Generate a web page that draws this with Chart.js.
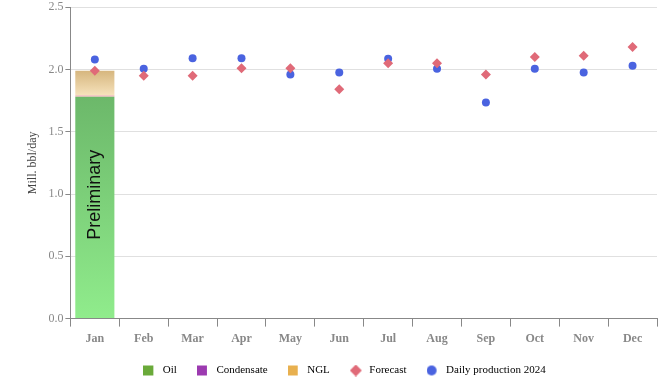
<!DOCTYPE html>
<html>
<head>
<meta charset="utf-8">
<script src="https://cdn.jsdelivr.net/npm/chart.js@4/dist/chart.umd.min.js"></script>
<style>
html,body{margin:0;padding:0;background:#fff;}
#wrap{width:670px;height:377px;}
</style>
</head>
<body>
<div id="wrap"><canvas id="c" width="670" height="377"></canvas></div>
<script>
const months = ["Jan","Feb","Mar","Apr","May","Jun","Jul","Aug","Sep","Oct","Nov","Dec"];
const oil = [1.78,null,null,null,null,null,null,null,null,null,null,null];
const condensate = [0.012,null,null,null,null,null,null,null,null,null,null,null];
const ngl = [0.197,null,null,null,null,null,null,null,null,null,null,null];
const forecast = [1.99,1.95,1.95,2.01,2.01,1.84,2.05,2.05,1.96,2.10,2.11,2.18];
const daily2024 = [2.08,2.005,2.09,2.09,1.96,1.975,2.085,2.005,1.735,2.005,1.975,2.03];
const yTicks = [0,0.5,1.0,1.5,2.0,2.5];
const prelimLabel = "Preliminary";

const serif = "'Liberation Serif', 'Times New Roman', serif";
const ICON_W = 14;

function grad(ctx, c0, c1, lo, hi){
  const chart = ctx.chart;
  const ca = chart.chartArea;
  if(!ca) return c1;
  const y = chart.scales.y;
  const g = chart.ctx.createLinearGradient(0, y.getPixelForValue(lo), 0, y.getPixelForValue(hi));
  g.addColorStop(0, c0);
  g.addColorStop(1, c1);
  return g;
}

function icon(shape, color){
  const c = document.createElement('canvas');
  const s = shape === 'diamond' ? 12 : 10;
  c.width = ICON_W; c.height = 12;
  const x = c.getContext('2d');
  x.fillStyle = color;
  const oy = (12 - s) / 2;
  if(shape === 'rect'){ x.fillRect(0,oy,s,s); }
  else if(shape === 'circle'){ x.beginPath(); x.arc(s/2,oy+s/2,s/2,0,Math.PI*2); x.fill(); }
  else { x.beginPath(); x.moveTo(s/2,0); x.lineTo(s,s/2); x.lineTo(s/2,s); x.lineTo(0,s/2); x.closePath(); x.fill(); }
  return c;
}

const prelimPlugin = {
  id: 'prelim',
  afterDatasetsDraw(chart){
    const meta = chart.getDatasetMeta(0);
    const el = meta.data[0];
    if(!el) return;
    const y = chart.scales.y;
    const total = oil[0] + condensate[0] + ngl[0];
    const cy = y.getPixelForValue(total/2);
    const ctx = chart.ctx;
    ctx.save();
    ctx.translate(el.x, cy);
    ctx.rotate(-Math.PI/2);
    ctx.fillStyle = '#111';
    ctx.font = "18px 'Liberation Sans', Arial, sans-serif";
    ctx.textAlign = 'center';
    ctx.textBaseline = 'middle';
    ctx.fillText(prelimLabel, 0, 0);
    ctx.restore();
  }
};

const legendFitPlugin = {
  id: 'legendFit',
  beforeInit(chart){
    const lg = chart.legend;
    if(!lg) return;
    const fit = lg.fit;
    lg.fit = function(){ fit.call(this); this.height -= 15; };
    const draw = lg.draw;
    lg.draw = function(){
      const t = this.top, l = this.left, r = this.right;
      this.top = t - 6; this.left = l + 3; this.right = r + 3;
      draw.call(this);
      this.top = t; this.left = l; this.right = r;
    };
  }
};

const legendColors = ['#6aaa3a','#9c3ab0','#e8b04f','#e06a78','#4a63e0'];
const legendShapes = ['rect','rect','rect','diamond','circle'];

new Chart(document.getElementById('c'), {
  type: 'bar',
  data: {
    labels: months,
    datasets: [
      {label:'Oil', data: oil, stack:'s', order:3,
       backgroundColor: ctx => grad(ctx, '#90ec8c', '#6cb86a', 0, oil[0])},
      {label:'Condensate', data: condensate, stack:'s', order:3,
       backgroundColor: '#f2b8b8'},
      {label:'NGL', data: ngl, stack:'s', order:3,
       backgroundColor: ctx => grad(ctx, '#f6e2bc', '#d6b67e', oil[0]+condensate[0], oil[0]+condensate[0]+ngl[0])},
      {label:'Forecast', type:'line', data: forecast, stack:'f', showLine:false, order:1,
       pointStyle:'rectRot', pointRadius:5, pointHoverRadius:5, backgroundColor:'#e06a78', borderColor:'#e06a78', borderWidth:0},
      {label:'Daily production 2024', type:'line', data: daily2024, stack:'d', showLine:false, order:2,
       pointStyle:'circle', pointRadius:4, pointHoverRadius:4, backgroundColor:'#4a63e0', borderColor:'#4a63e0', borderWidth:0}
    ]
  },
  options: {
    responsive:false,
    animation:false,
    layout:{padding:{top:-4,right:13,left:26,bottom:0}},
    datasets:{bar:{categoryPercentage:0.8, barPercentage:1.0}},
    plugins:{
      tooltip:{enabled:false},
      legend:{
        position:'bottom',
        labels:{
          font:{family:serif, size:11},
          color:'#333',
          boxWidth:10, boxHeight:10,
          usePointStyle:true,
          pointStyleWidth:ICON_W,
          padding:20,
          generateLabels(chart){
            return chart.data.datasets.map((d,i)=>({
              text:d.label, fillStyle:legendColors[i], strokeStyle:legendColors[i], lineWidth:0,
              pointStyle:icon(legendShapes[i], legendColors[i]), datasetIndex:i, hidden:false
            }));
          }
        }
      }
    },
    scales:{
      x:{
        stacked:true,
        grid:{display:true, drawOnChartArea:false, offset:true, tickLength:8, color:'#888'},
        border:{color:'#888'},
        ticks:{font:{family:serif, size:12, weight:'bold'}, color:'#888', padding:5}
      },
      y:{
        stacked:true,
        min:0, max:2.5,
        afterBuildTicks(axis){ axis.ticks = yTicks.map(v=>({value:v})); },
        grid:{color:'#e0e0e0', tickLength:5, tickColor:'#888'},
        border:{color:'#888'},
        ticks:{font:{family:serif, size:12, lineHeight:0.85}, color:'#888', padding:2, callback:v=>Number(v).toFixed(1)},
        title:{display:true, text:'Mill. bbl/day', font:{family:serif, size:12}, color:'#444', padding:{top:0,bottom:6}}
      }
    }
  },
  plugins:[prelimPlugin, legendFitPlugin]
});
</script>
</body>
</html>
